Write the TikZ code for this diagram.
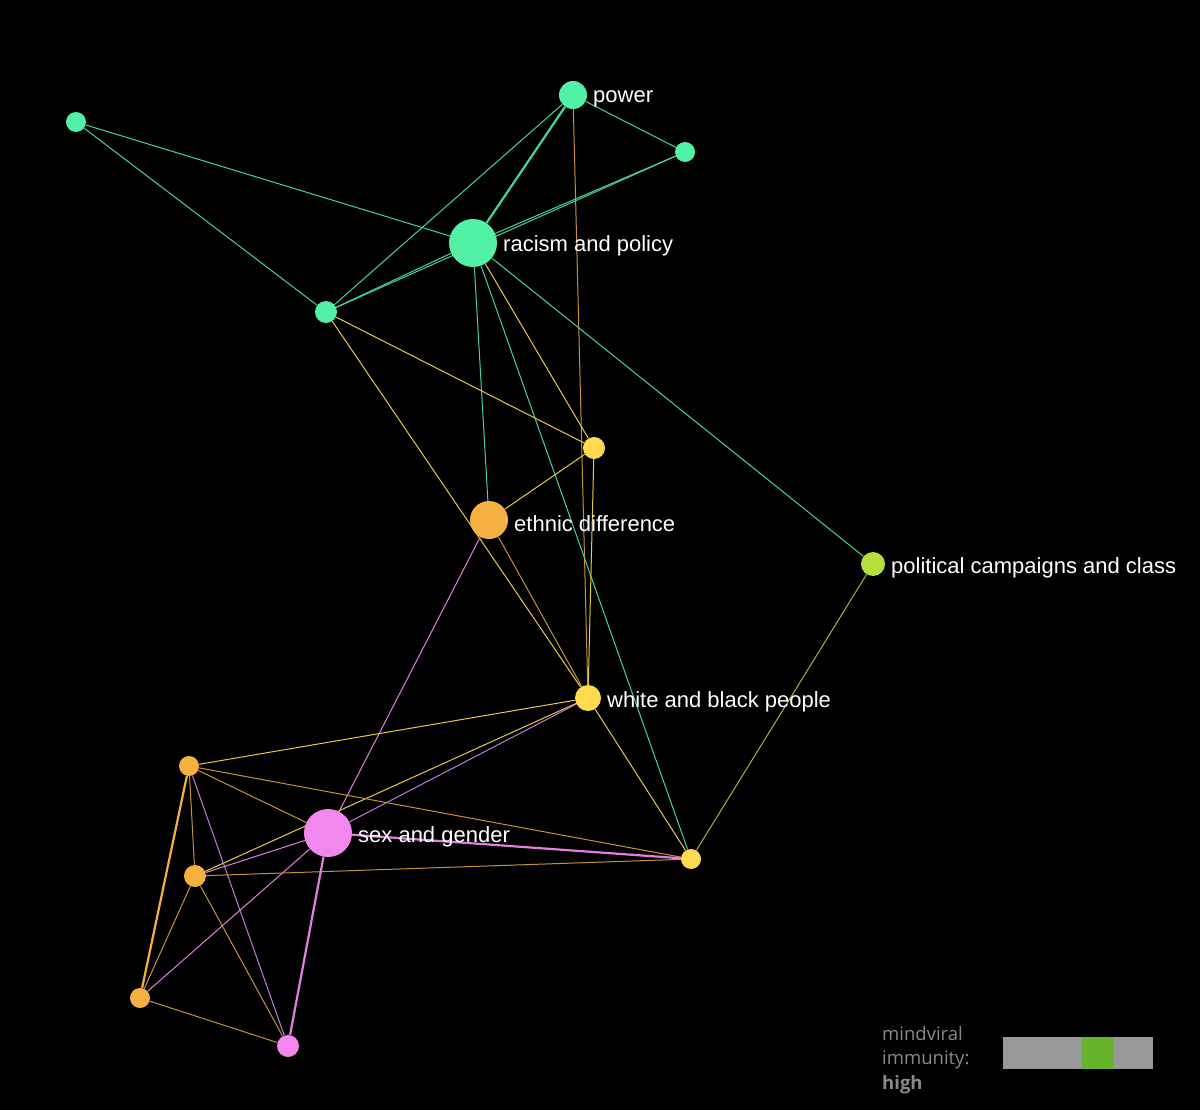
\documentclass[tikz,border=0pt]{standalone}
\usepackage{fontspec}
\setmainfont{Liberation Sans}
\newfontfamily\legendfont{Open Sans}
\pgfdeclarelayer{background}
\pgfsetlayers{background,main}
\definecolor{ngreen}{HTML}{52F2A6}
\definecolor{nyellow}{HTML}{FFD94E}
\definecolor{norange}{HTML}{F5B041}
\definecolor{npink}{HTML}{F287EE}
\definecolor{nlime}{HTML}{B5E03A}
\definecolor{egreen}{HTML}{45D696}
\definecolor{eyellow}{HTML}{E8C94A}
\definecolor{eorange}{HTML}{C8923C}
\definecolor{epink}{HTML}{E47FE2}
\definecolor{epurple}{HTML}{C07ADF}
\definecolor{eolive}{HTML}{A8B43A}
\definecolor{legendgray}{HTML}{8A8A8A}
\definecolor{bargray}{HTML}{999999}
\definecolor{bargreen}{HTML}{66B32E}
\tikzset{
  dot/.style={circle, inner sep=0pt, minimum size=#1},
  lbl/.style={anchor=west, text=white, font=\fontsize{22}{24}\selectfont, inner sep=0pt},
  edge/.style={line width=1pt},
  thick edge/.style={line width=2.2pt},
}
\begin{document}
\begin{tikzpicture}[x=1pt,y=-1pt]
\useasboundingbox (0,0) rectangle (1200,1110);
% nodes
\node[dot=20pt, fill=ngreen] (A) at (76,122) {};
\node[dot=28pt, fill=ngreen] (P) at (573,95) {};
\node[dot=20pt, fill=ngreen] (Q) at (685,152) {};
\node[dot=48pt, fill=ngreen] (R) at (473,243) {};
\node[dot=22pt, fill=ngreen] (G) at (326,312) {};
\node[dot=22pt, fill=nyellow] (Y1) at (594,448) {};
\node[dot=38pt, fill=norange] (E) at (489,520) {};
\node[dot=24pt, fill=nlime] (PC) at (873,564) {};
\node[dot=26pt, fill=nyellow] (W) at (588,698) {};
\node[dot=20pt, fill=norange] (O1) at (189,766) {};
\node[dot=48pt, fill=npink] (S) at (328,833) {};
\node[dot=22pt, fill=norange] (O2) at (195,876) {};
\node[dot=20pt, fill=nyellow] (Y2) at (691,859) {};
\node[dot=20pt, fill=norange] (O3) at (140,998) {};
\node[dot=22pt, fill=npink] (K) at (288,1046) {};
% labels
\node[lbl] (lP) at (593,99) {power};
\node[lbl] (lR) at (503,246) {racism and policy};
\node[lbl] (lE) at (514,524) {ethnic difference};
\node[lbl] (lPC) at (891,568) {political campaigns and class};
\node[lbl] (lW) at (607,702) {white and black people};
\node[lbl] (lS) at (358,837) {sex and gender};
% edges
\begin{pgfonlayer}{background}
\fill[black] (0,0) rectangle (1200,1110);
\draw[edge, egreen] (A) -- (R);
\draw[edge, egreen] (A) -- (G);
\draw[edge, egreen] (P) -- (Q);
\draw[thick edge, egreen] (P) -- (R);
\draw[edge, egreen] (P) -- (G);
\draw[edge, eorange] (P) -- (W);
\draw[edge, egreen] (Q) -- (R);
\draw[edge, egreen] (Q) -- (G);
\draw[edge, egreen] (R) -- (G);
\draw[edge, egreen] (R) -- (E);
\draw[edge, egreen] (R) -- (Y2);
\draw[edge, eyellow] (R) -- (Y1);
\draw[edge, egreen] (R) -- (PC);
\draw[edge, eyellow] (G) -- (Y1);
\draw[edge, eyellow] (G) -- (W);
\draw[edge, eyellow] (E) -- (Y1);
\draw[edge, eorange] (E) -- (W);
\draw[edge, epink] (E) -- (S);
\draw[edge, eyellow] (Y1) -- (W);
\draw[edge, eolive] (PC) -- (Y2);
\draw[edge, eyellow] (W) -- (Y2);
\draw[edge, eyellow] (W) -- (O1);
\draw[edge, eyellow] (W) -- (O2);
\draw[edge, epurple] (W) -- (S);
\draw[edge, eorange] (O1) -- (Y2);
\draw[edge, eorange] (O1) -- (S);
\draw[edge, eorange] (O1) -- (O2);
\draw[thick edge, norange] (O1) -- (O3);
\draw[edge, epurple] (O1) -- (K);
\draw[edge, epink] (O2) -- (S);
\draw[edge, eorange] (O2) -- (Y2);
\draw[edge, eorange] (O2) -- (O3);
\draw[edge, eorange] (O2) -- (K);
\draw[edge, epink] (O3) -- (S);
\draw[edge, eorange] (O3) -- (K);
\draw[thick edge, epink] (S) -- (K);
\draw[thick edge, epink] (S) -- (Y2);
\end{pgfonlayer}
% legend
\node[anchor=north west, inner sep=0pt, align=left, text=legendgray,
  font=\legendfont\fontsize{18.5}{24.5}\selectfont] (leg) at (882,1026)
  {mindviral\\immunity:\\\textbf{high}};
\fill[bargray] (1003,1037) rectangle (1153,1069);
\fill[bargreen] (1082,1037) rectangle (1114,1069);
\end{tikzpicture}
\end{document}
